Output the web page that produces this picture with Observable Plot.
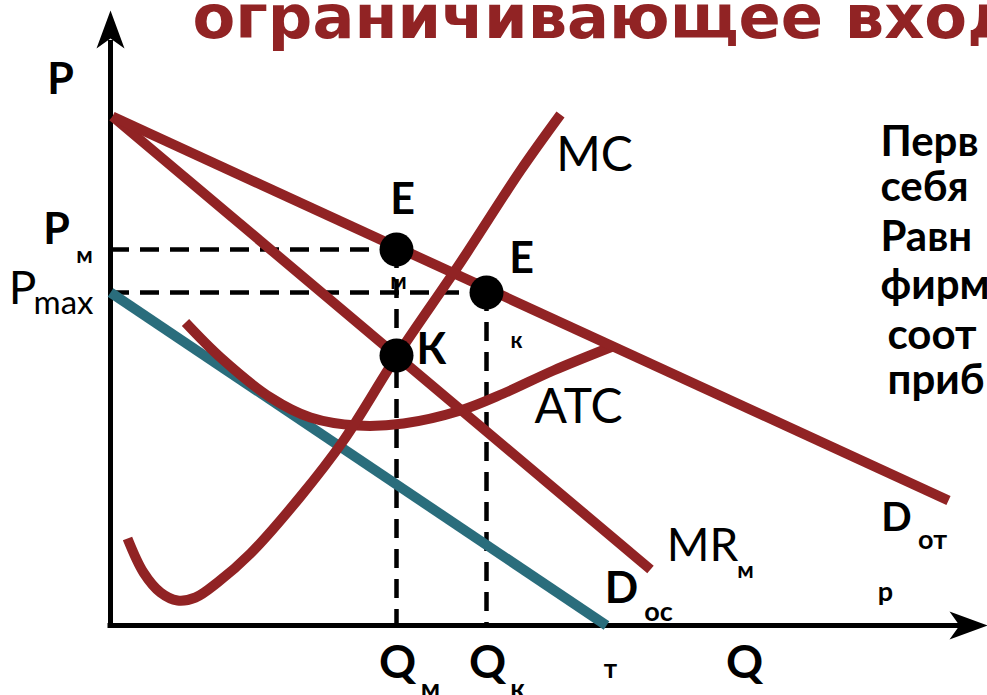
<!DOCTYPE html>
<html>
<head>
<meta charset="utf-8">
<script src="https://cdn.jsdelivr.net/npm/d3@7"></script>
<script src="https://cdn.jsdelivr.net/npm/@observablehq/plot@0.6"></script>
<style>
  html, body { margin: 0; padding: 0; background: #fff; overflow: hidden; }
  svg { display: block; }
</style>
</head>
<body>
<div id="chart"></div>
<script>
// Limit pricing diagram: quantity Q on x, price P on y (arbitrary units)

// Industry demand D_отр and the monopolist's marginal revenue MR_м (straight lines)
const demandIndustry = [[0.2, 50.9], [83.8, 12.5]];
const marginalRevenue = [[0.2, 50.9], [54.0, 5.6]];
// Residual demand left to an entrant, starting at the limit price P_max
const demandResidual = [[0, 33.3], [49.6, 0]];
// Marginal cost MC
const mcQ = [1.7, 3.3, 5.0, 6.7, 8.5, 10.7, 14.0, 19.0, 23.3, 28.6, 35.0, 41.0, 45.0];
const mcP = [8.7, 5.3, 3.3, 2.5, 2.8, 4.3, 7.2, 12.9, 18.5, 26.9, 36.3, 45.5, 51.1];
// Average total cost ATC
const atcQ = [7.5, 11.0, 16.0, 20.0, 24.7, 29.3, 35.0, 39.3, 44.3, 50.2];
const atcP = [30.3, 26.8, 22.8, 20.8, 20.0, 20.2, 21.5, 23.2, 25.5, 27.9];

// Key points: monopoly optimum E_м, limit-price point E_к, MR = MC point К
const Qm = 28.6, Pm = 37.6;
const Qk = 37.6, Pmax = 33.3;
const Kp = 27.0;
const points = [[Qm, Pm], [Qk, Pmax], [Qm, Kp]];

// Axis extents
const qEnd = 87.7, pEnd = 61.5;

// Letter labels
const boldLabels = [
  {t: "P", Q: -5.0, P: 53.2, size: 43},
  {t: "P", Q: -5.4, P: 38.2, size: 43},
  {t: "E", Q: 29.2, P: 41.2, size: 43},
  {t: "E", Q: 41.1, P: 35.3, size: 43},
  {t: "К", Q: 32.1, P: 26.2, size: 43},
  {t: "D", Q: 51.1, P: 2.3, size: 44},
  {t: "D", Q: 78.6, P: 9.5, size: 40},
  {t: "Q", Q: 63.4, P: -5.2, size: 46},
  {t: "Q", Q: 28.7, P: -5.2, size: 46},
  {t: "Q", Q: 37.7, P: -5.2, size: 46}
];
const subLabels = [
  {t: "м", Q: -2.6, P: 36.3, size: 23},
  {t: "м", Q: 28.8, P: 33.7, size: 23},
  {t: "к", Q: 40.6, P: 27.8, size: 22},
  {t: "м", Q: 63.5, P: 4.8, size: 23},
  {t: "ос", Q: 54.8, P: 0.5, size: 27},
  {t: "т", Q: 50.0, P: -5.2, size: 26},
  {t: "от", Q: 82.2, P: 7.7, size: 27},
  {t: "р", Q: 77.5, P: 2.5, size: 27},
  {t: "м", Q: 32.0, P: -7.2, size: 27},
  {t: "к", Q: 40.7, P: -7.2, size: 27}
];
const regularLabels = [
  {t: "MC", Q: 48.4, P: 45.5, size: 48},
  {t: "ATC", Q: 46.8, P: 20.3, size: 48},
  {t: "MR", Q: 59.2, P: 6.5, size: 46},
  {t: "P", Q: -8.8, P: 32.2, size: 46},
  {t: "max", Q: -4.7, P: 31.2, size: 33}
];

// Slide text around the diagram
const titleText = [{t: "ограничивающее вход", Q: 8.2, P: 58.8}];
const sideText = [
  {t: "Перв", Q: 77.0, P: 47.0},
  {t: "себя", Q: 77.0, P: 42.5},
  {t: "Равн", Q: 77.0, P: 37.5},
  {t: "фирм", Q: 77.0, P: 32.7},
  {t: "соот", Q: 77.7, P: 27.7},
  {t: "приб", Q: 77.7, P: 23.2}
];

const red = "#912324";
const teal = "#2a6d7c";
const font = "Lato, 'Open Sans', sans-serif";

const mc = mcQ.map((q, i) => [q, mcP[i]]);
const atc = atcQ.map((q, i) => [q, atcP[i]]);

// Filled, notched arrowhead whose tip sits on the anchor point
const arrowHead = {
  draw(context, size) {
    const r = Math.sqrt(size / Math.PI);
    context.moveTo(0, 0);
    context.lineTo(0.7 * r, 1.9 * r);
    context.lineTo(0, 1.4 * r);
    context.lineTo(-0.7 * r, 1.9 * r);
    context.closePath();
  }
};

const dash = {stroke: "black", strokeWidth: 4.5, strokeDasharray: "19,11"};
const curve = {stroke: red, strokeWidth: 10, strokeLinecap: "butt"};

const chart = Plot.plot({
  width: 987,
  height: 695,
  marginLeft: 110,
  marginRight: 0,
  marginTop: 0,
  marginBottom: 70,
  x: {domain: [0, qEnd], axis: null},
  y: {domain: [0, 62.5], axis: null},
  marks: [
    // axes
    Plot.ruleX([0], {y1: 0, y2: pEnd - 3, stroke: "black", strokeWidth: 5}),
    Plot.ruleY([0], {x1: -0.25, x2: qEnd - 2.5, stroke: "black", strokeWidth: 5}),
    Plot.dot([[0, pEnd]], {symbol: arrowHead, r: 20, fill: "black", stroke: null, rotate: 0}),
    Plot.dot([[qEnd, 0]], {symbol: arrowHead, r: 20, fill: "black", stroke: null, rotate: 90}),
    // guides to P_м, P_max, Q_м, Q_к
    Plot.ruleY([Pm], {x1: 0, x2: Qm, ...dash}),
    Plot.ruleY([Pmax], {x1: 0, x2: Qk, ...dash}),
    Plot.ruleX([Qm], {y1: Pm, y2: 0, ...dash}),
    Plot.ruleX([Qk], {y1: Pmax, y2: 0, ...dash}),
    // curves
    Plot.line(demandResidual, {stroke: teal, strokeWidth: 10, strokeLinecap: "butt"}),
    Plot.line(atc, {...curve, curve: "catmull-rom"}),
    Plot.line(mc, {...curve, curve: "catmull-rom"}),
    Plot.line(marginalRevenue, curve),
    Plot.line(demandIndustry, curve),
    // points
    Plot.dot(points, {r: 17, fill: "black", stroke: null}),
    // labels
    Plot.text(boldLabels, {x: "Q", y: "P", text: "t", fontSize: d => d.size, fontWeight: "bold",
      fontFamily: font, lineAnchor: "bottom", fill: "black"}),
    Plot.text(subLabels, {x: "Q", y: "P", text: "t", fontSize: d => d.size, fontWeight: "bold",
      fontFamily: font, lineAnchor: "bottom", fill: "black"}),
    Plot.text(regularLabels, {x: "Q", y: "P", text: "t", fontSize: d => d.size, fontWeight: "normal",
      fontFamily: font, lineAnchor: "bottom", fill: "black"}),
    Plot.text(titleText, {x: "Q", y: "P", text: "t", fontSize: 60, fontWeight: "bold",
      fontFamily: "'DejaVu Sans', sans-serif", textAnchor: "start", lineAnchor: "bottom",
      fill: red, className: "slide-title"}),
    Plot.text(sideText, {x: "Q", y: "P", text: "t", fontSize: 42, fontWeight: "bold",
      fontFamily: font, textAnchor: "start", lineAnchor: "bottom", fill: "black"})
  ]
});

// fit the title to its line width
d3.select(chart).selectAll(".slide-title text")
  .attr("textLength", 825)
  .attr("lengthAdjust", "spacingAndGlyphs");

document.getElementById("chart").appendChild(chart);
</script>
</body>
</html>
